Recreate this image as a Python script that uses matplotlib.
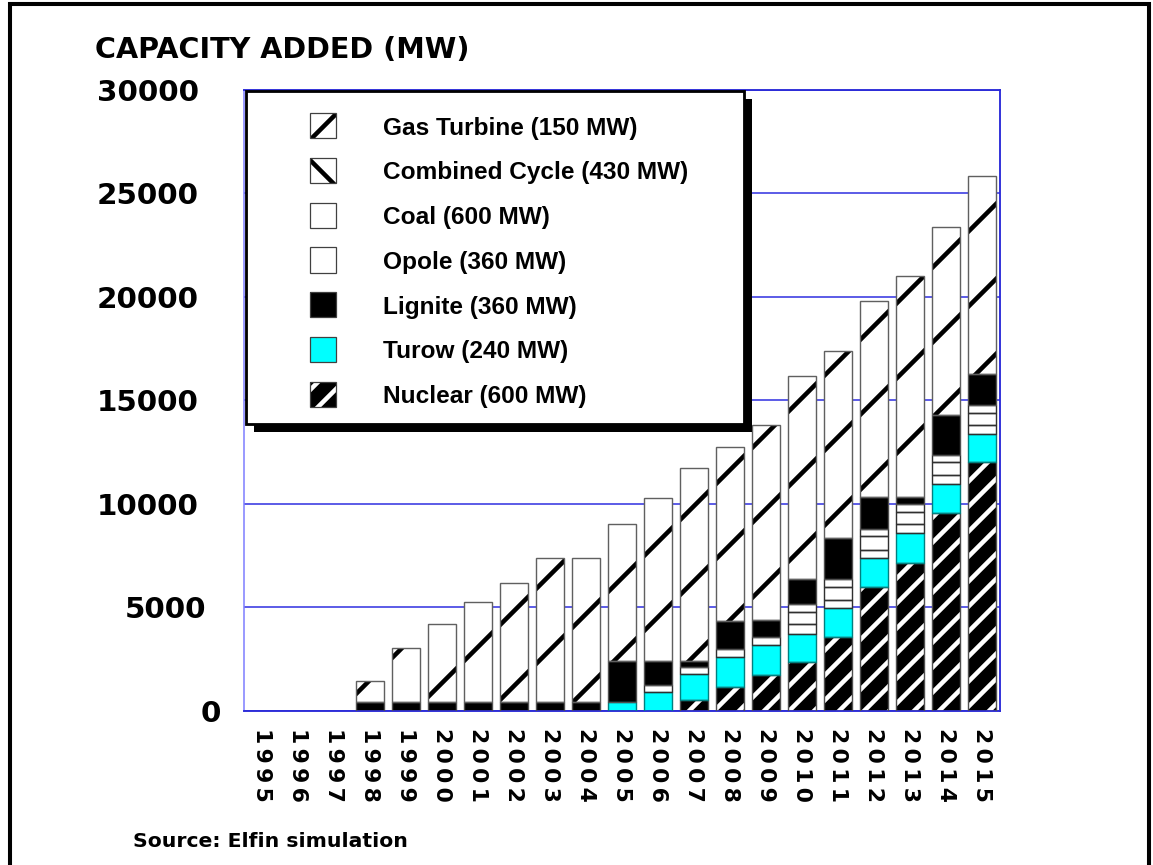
import matplotlib.pyplot as plt
import matplotlib.transforms as mtransforms
import numpy as np
from matplotlib.patches import Rectangle

# Cumulative capacity added per year (MW), stacked bottom to top
years = list(range(1995, 2016))
nuclear = [0] * 12 + [520, 1130, 1730, 2340, 3550, 5970, 7150, 9570, 12020]
turow = [0] * 10 + [400, 890, 1260, 1450, 1450, 1370, 1400, 1400, 1430, 1400, 1370]
opole = [0] * 11 + [320, 320, 400, 370, 480, 370, 370, 450, 400, 400]
coal = [0] * 15 + [570, 650, 680, 560, 650, 600]
combined = [0] * 15 + [400, 370, 340, 400, 320, 370]
lignite = [0, 0, 0, 400, 400, 400, 400, 400, 400, 400,
		   1970, 1160, 270, 1370, 810, 1180, 2000, 1560, 320, 1940, 1500]
gas = [0, 0, 0, 1050, 2620, 3790, 4840, 5750, 6960, 6960,
	   6670, 7920, 9370, 8390, 9460, 9830, 9060, 9500, 10700, 9110, 9560]

y_ticks = [0, 5000, 10000, 15000, 20000, 25000, 30000]

legend_labels = [
	"Gas Turbine (150 MW)",
	"Combined Cycle (430 MW)",
	"Coal (600 MW)",
	"Opole (360 MW)",
	"Lignite (360 MW)",
	"Turow (240 MW)",
	"Nuclear (600 MW)",
]

# (values, face, hatch, hatch colour, outline)
series = [
	(nuclear, "black", "///", "white", "#505050"),
	(turow, "#00ffff", None, "#00ffff", "#008080"),
	(opole, "white", None, "white", "#303030"),
	(coal, "white", None, "white", "#303030"),
	(combined, "white", "\\", "black", "#303030"),
	(lignite, "black", None, "black", "#505050"),
	(gas, "white", "/", "black", "#606060"),
]
# legend rows follow the label order above
legend_style = [series[6], series[4], series[3], series[2], series[5], series[1], series[0]]

W, H, DPI = 1153, 865, 225
plt.rcParams["hatch.linewidth"] = 1.45
plt.rcParams["font.weight"] = "bold"


def fx(px):
	return px / W


def fy(py):
	return 1 - py / H


fig = plt.figure(figsize=(W / DPI, H / DPI), dpi=DPI)
fig.patch.set_facecolor("white")

ax = fig.add_axes([fx(244), fy(710.5), (1000 - 244) / W, (710.5 - 90) / H])
x = np.arange(len(years))
bottom = np.zeros(len(years))
for vals, face, hatch, hcol, edge in series:
	v = np.array(vals, dtype=float)
	m = v > 0
	ax.bar(x[m], v[m], bottom=bottom[m], width=0.8, color=face, edgecolor=hcol,
		   linewidth=0, hatch=hatch, zorder=2)
	ax.bar(x[m], v[m], bottom=bottom[m], width=0.8, fill=False, edgecolor=edge,
		   linewidth=0.45, zorder=3)
	bottom += v

ax.set_xlim(-0.5, len(years) - 0.5)
ax.set_ylim(0, 30000)
ax.set_yticks(y_ticks, [str(t) for t in y_ticks])
ax.set_xticks(x, ["\u2009".join(str(y)) for y in years])
ax.tick_params(axis="y", length=0, pad=14.4, labelsize=9.4)
ax.tick_params(axis="x", length=0, pad=5.6, labelsize=7.0)
for lab in ax.get_xticklabels():
	lab.set_rotation(270)
	lab.set_ha("center")
	lab.set_va("top")
for lab in ax.get_xticklabels() + ax.get_yticklabels():
	lab.set_fontfamily("DejaVu Sans")
	lab.set_fontweight("bold")

# the two lowest value labels sit a little closer to the axis
nudge = {"5000": 7, "0": 22}
for lab in ax.get_yticklabels():
	dx = nudge.get(lab.get_text(), 0)
	if dx:
		lab.set_transform(lab.get_transform() + mtransforms.ScaledTranslation(dx / DPI, 0, fig.dpi_scale_trans))

ax.set_axisbelow(True)
ax.yaxis.grid(True, color="#5555e6", linewidth=0.6)
for side in ["top", "right", "bottom"]:
	ax.spines[side].set_color("#2a2ad8")
	ax.spines[side].set_linewidth(0.6)
ax.spines["left"].set_color("#8080ff")
ax.spines["left"].set_linewidth(0.5)

# legend box with solid drop shadow
bx0, by0, bx1, by1 = 246, 91, 744, 424
fig.add_artist(Rectangle((fx(bx0 + 8), fy(by1 + 8)), (bx1 - bx0) / W, (by1 - by0) / H,
						 transform=fig.transFigure, facecolor="black", edgecolor="black",
						 linewidth=0, zorder=5))
fig.add_artist(Rectangle((fx(bx0), fy(by1)), (bx1 - bx0) / W, (by1 - by0) / H,
						 transform=fig.transFigure, facecolor="white", edgecolor="black",
						 linewidth=0.9, zorder=6))
row_y = [125.7, 170.4, 215.2, 260.0, 304.7, 349.4, 394.1]
for label, (vals, face, hatch, hcol, edge), ry in zip(legend_labels, legend_style, row_y):
	fig.add_artist(Rectangle((fx(310), fy(ry + 12.5)), 26 / W, 25 / H, transform=fig.transFigure,
							 facecolor=face, edgecolor=hcol, linewidth=0, hatch=hatch, zorder=7))
	fig.add_artist(Rectangle((fx(310), fy(ry + 12.5)), 26 / W, 25 / H, transform=fig.transFigure,
							 fill=False, edgecolor="#404040", linewidth=0.4, zorder=8))
	fig.text(fx(383), fy(ry + 2.5), label, fontsize=7.8, fontfamily="Liberation Sans",
			 fontweight="bold", va="center", ha="left", zorder=8)

fig.text(fx(95), fy(58), "CAPACITY ADDED (MW)", fontsize=9.15, fontfamily="DejaVu Sans",
		 fontweight="bold", va="baseline", ha="left")
fig.text(fx(133), fy(847), "Source: Elfin simulation", fontsize=6.5, fontfamily="DejaVu Sans",
		 fontweight="bold", va="baseline", ha="left")

# outer frame
fig.add_artist(Rectangle((fx(10), fy(880)), (1149 - 10) / W, (880 - 4) / H, transform=fig.transFigure,
						 fill=False, edgecolor="black", linewidth=1.3, zorder=10))

fig.savefig("out.png", dpi=DPI)
